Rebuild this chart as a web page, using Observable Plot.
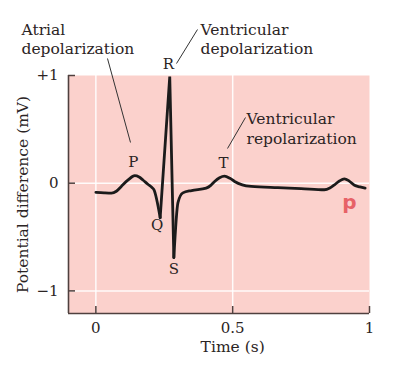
<!DOCTYPE html>
<html>
<head>
<meta charset="utf-8">
<script src="https://cdn.jsdelivr.net/npm/d3@7"></script>
<script src="https://cdn.jsdelivr.net/npm/@observablehq/plot@0.6"></script>
<style>
  html, body { margin: 0; padding: 0; background: white; }
</style>
</head>
<body>
<div id="chart"></div>
<script>
// ---- data ----
const xDomain = [-0.1, 1];
const yDomain = [-1.21, 1];
const xTicks = [0, 0.5, 1];
const xTickLabels = ["0", "0.5", "1"];
const yTicks = [-1, 0, 1];
const yTickLabels = ["\u22121", "0", "+1"];
const xGrid = [0, 0.5];
const yGrid = [-1, 0];

const time = [0, 0.03, 0.057, 0.075, 0.093, 0.118, 0.142, 0.158, 0.172, 0.19, 0.205, 0.212, 0.235, 0.27, 0.285, 0.3, 0.318, 0.35, 0.403, 0.42, 0.434, 0.452, 0.47, 0.49, 0.507, 0.535, 0.568, 0.665, 0.75, 0.835, 0.855, 0.872, 0.89, 0.908, 0.925, 0.945, 0.965, 0.984];
const mV   = [-0.086, -0.09, -0.092, -0.075, -0.03, 0.03, 0.07, 0.058, 0.03, -0.01, -0.04, -0.06, -0.32, 0.99, -0.69, -0.18, -0.09, -0.068, -0.046, -0.02, 0.016, 0.05, 0.065, 0.045, 0.016, -0.015, -0.03, -0.042, -0.05, -0.061, -0.045, -0.015, 0.02, 0.04, 0.022, -0.02, -0.035, -0.046];
const qTime = 0.235;  // Q trough
const sTime = 0.285;  // S trough

// multi-line annotations (left-aligned)
const noteText = ["Atrial\ndepolarization", "Ventricular\ndepolarization", "Ventricular\nrepolarization"];
const noteX =    [-0.2718, 0.3824, 0.5505];
const noteY =    [1.3436, 1.3436, 0.515];

// wave letters (centred)
const waveText = ["R", "P", "T", "Q", "S"];
const waveX =    [0.2654, 0.1364, 0.4664, 0.2241, 0.2848];
const waveY =    [1.107, 0.197, 0.190, -0.388, -0.797];

const leaderX1 = [0.0425, 0.2947, 0.5468];
const leaderY1 = [1.158, 1.111, 0.610];
const leaderX2 = [0.1266, 0.3714, 0.4811];
const leaderY2 = [0.378, 1.427, 0.322];

const markText = ["p"];
const markX = [0.9269];
const markY = [-0.179];

const xLabel = "Time (s)";
const yLabel = "Potential difference (mV)";

// ---- layout ----
const W = 394, H = 377;
const mL = 68, mR = 25, mT = 75, mB = 64;
const tickPx = 7;
const tickLenY = tickPx * (yDomain[1] - yDomain[0]) / (H - mT - mB);
const tickLenX = tickPx * (xDomain[1] - xDomain[0]) / (W - mL - mR);

const ecg = time.map((t, i) => ({t, v: mV[i]}));
const ecgBefore = ecg.filter(d => d.t <= qTime);
const ecgQRS = ecg.filter(d => d.t >= qTime && d.t <= sTime);
const ecgAfter = ecg.filter(d => d.t >= sTime);
const notes = noteText.map((s, i) => ({s, x: noteX[i], y: noteY[i]}));
const waves = waveText.map((s, i) => ({s, x: waveX[i], y: waveY[i]}));
const leaders = leaderX1.map((d, i) => ({x1: d, y1: leaderY1[i], x2: leaderX2[i], y2: leaderY2[i]}));
const axisColor = "#4f403e";
const textColor = "#2b2424";
const lineStyle = {x: "t", y: "v", stroke: "#1b1b1b", strokeWidth: 2.8, strokeLinejoin: "round", strokeLinecap: "round"};

const chart = Plot.plot({
  width: W, height: H,
  marginLeft: mL, marginRight: mR, marginTop: mT, marginBottom: mB,
  style: {fontFamily: "DejaVu Serif", fontSize: "15px", background: "white", color: textColor},
  x: {domain: xDomain},
  y: {domain: yDomain},
  marks: [
    Plot.frame({fill: "#fbd1cc", stroke: null}),
    Plot.ruleX(xGrid, {x: d => d, stroke: "white", strokeWidth: 1.5, strokeOpacity: 0.9}),
    Plot.ruleY(yGrid, {y: d => d, stroke: "white", strokeWidth: 1.5, strokeOpacity: 0.9}),
    Plot.ruleX([xDomain[0]], {x: d => d, stroke: axisColor, strokeWidth: 1.6}),
    Plot.ruleY([yDomain[0]], {y: d => d, stroke: axisColor, strokeWidth: 1.6}),
    Plot.ruleX(xTicks, {x: d => d, y1: yDomain[0], y2: yDomain[0] + tickLenY, stroke: axisColor, strokeWidth: 1.5}),
    Plot.ruleY(yTicks, {y: d => d, x1: xDomain[0], x2: xDomain[0] + tickLenX, stroke: axisColor, strokeWidth: 1.5}),
    Plot.axisX(xTicks, {tickSize: 0, tickPadding: 9, tickFormat: d => xTickLabels[xTicks.indexOf(d)], label: null, fill: textColor, fontSize: 15}),
    Plot.axisY(yTicks, {tickSize: 0, tickPadding: 10, tickFormat: d => yTickLabels[yTicks.indexOf(d)], label: null, fill: textColor, fontSize: 15}),
    Plot.text([xLabel], {x: xTicks[1], frameAnchor: "bottom", dy: 38.5, textAnchor: "middle", text: d => d, fill: textColor, fontSize: 15.5}),
    Plot.text([yLabel], {frameAnchor: "left", rotate: -90, dx: -45, textAnchor: "middle", text: d => d, fill: textColor, fontSize: 15.5}),
    Plot.line(ecgBefore, {...lineStyle, curve: "monotone-x"}),
    Plot.line(ecgQRS, {...lineStyle, curve: "linear", strokeLinejoin: "miter", strokeMiterlimit: 20}),
    Plot.line(ecgAfter, {...lineStyle, curve: "monotone-x"}),
    Plot.link(leaders, {x1: "x1", y1: "y1", x2: "x2", y2: "y2", stroke: "#333", strokeWidth: 1}),
    Plot.text(notes, {x: "x", y: "y", text: "s", textAnchor: "start", lineHeight: 1.25, fill: textColor, fontSize: 15.5}),
    Plot.text(waves, {x: "x", y: "y", text: "s", textAnchor: "middle", fill: textColor, fontSize: 15}),
    Plot.text(markText, {x: markX, y: markY, text: d => d, fontFamily: "DejaVu Sans", fontSize: 20, fontWeight: 600, fill: "#e2434b", fillOpacity: 0.8})
  ]
});
document.getElementById("chart").appendChild(chart);
</script>
</body>
</html>
